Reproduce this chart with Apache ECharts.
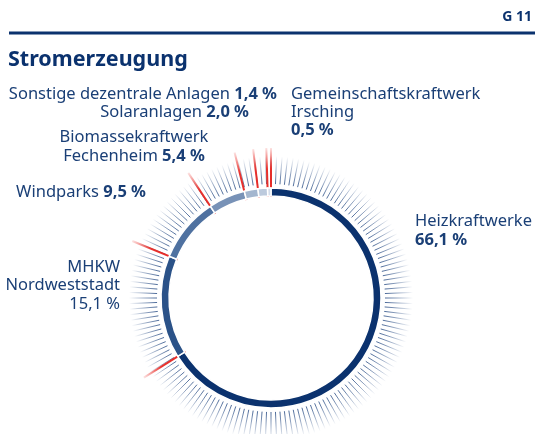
<!DOCTYPE html>
<html>
<head>
<meta charset="utf-8">
<script src="https://cdn.jsdelivr.net/npm/echarts@6/dist/echarts.min.js"></script>
<style>
  html, body { margin: 0; padding: 0; background: #fff; }
  #main { width: 535px; height: 434px; }
</style>
</head>
<body>
<div id="main"></div>
<script>
// Anteile an der Stromerzeugung (%), im Uhrzeigersinn ab 12 Uhr
const names = [
  "Heizkraftwerke",
  "MHKW\nNordweststadt",
  "Windparks",
  "Biomassekraftwerk\nFechenheim",
  "Solaranlagen",
  "Sonstige dezentrale Anlagen",
  "Gemeinschaftskraftwerk\nIrsching",
];
const values = [66.1, 15.1, 9.5, 5.4, 2.0, 1.4, 0.5];
const colors = ["#0b326e", "#2b5288", "#4f71a0", "#7892b7", "#a3b6cf", "#bccadd", "#d3dcea"];

const cx = 271, cy = 298;
const textColor = "#1a3f76";

// Segmentgrenzen (kumuliert)
let bounds = [0];
let acc = 0;
for (let i = 0; i < values.length - 1; i++) {
  acc += values[i];
  bounds.push(+acc.toFixed(1));
}

function fmt(v) {
  return v.toFixed(1).replace(".", ",") + " %";
}

// Beschriftung: Name normal, Wert fett (MHKW-Wert normal wie im Original)
function labelText(i, valueOnNewLine, boldValue) {
  let parts = names[i].split("\n");
  let lines = parts.map((p) => "{n|" + p + "}");
  let v = "{" + (boldValue ? "v" : "n") + "|" + fmt(values[i]) + "}";
  if (valueOnNewLine) {
    lines.push(v);
  } else {
    lines[lines.length - 1] += "{n| }" + v;
  }
  return lines.join("\n");
}

function rich(lh) {
  return {
    n: { fontFamily: "Noto Sans", fontSize: 16.5, fill: textColor, lineHeight: lh },
    v: { fontFamily: "Noto Sans", fontSize: 16.5, fontWeight: "bold", fill: textColor, lineHeight: lh },
  };
}

// [x, y(top), align, value on new line, lineHeight, bold value]
const labelPos = [
  [415, 212, "left", true, 19, true],
  [120, 258, "right", true, 18.5, false],
  [146, 183, "right", false, 19, true],
  [134, 128, "center", false, 19, true],
  [249, 103, "right", false, 19, true],
  [277, 85, "right", false, 19, true],
  [291, 85, "left", true, 18, true],
];

var chartDom = document.getElementById("main");
var myChart = echarts.init(chartDom);

let graphics = [
  {
    type: "rect",
    shape: { x: 9, y: 31.5, width: 526, height: 3 },
    style: { fill: "#0b326e" },
  },
  {
    type: "text",
    x: 532,
    y: 17,
    style: {
      text: "G 11",
      fontFamily: "Noto Sans",
      fontSize: 14,
      fontWeight: "bold",
      fill: "#0b326e",
      align: "right",
      verticalAlign: "middle",
    },
  },
  {
    type: "text",
    x: 8,
    y: 60,
    style: {
      text: "Stromerzeugung",
      fontFamily: "Noto Sans",
      fontSize: 21.5,
      fontWeight: "bold",
      fill: "#0b326e",
      verticalAlign: "middle",
    },
  },
];
labelPos.forEach(function (p, i) {
  graphics.push({
    type: "text",
    x: p[0],
    y: p[1],
    style: {
      text: labelText(i, p[3], p[5]),
      rich: rich(p[4]),
      fill: textColor,
      align: p[2],
      verticalAlign: "top",
    },
  });
});

var tickGrad = new echarts.graphic.RadialGradient(cx, cy, 142, [
  { offset: 0.78, color: "rgba(45,80,135,0.95)" },
  { offset: 0.88, color: "rgba(45,80,135,0.55)" },
  { offset: 1, color: "rgba(45,80,135,0)" },
], true);
var redGrad = new echarts.graphic.RadialGradient(cx, cy, 152, [
  { offset: 0.6, color: "rgba(232,40,35,1)" },
  { offset: 0.85, color: "rgba(232,40,35,0.95)" },
  { offset: 1, color: "rgba(232,40,35,0.05)" },
], true);

var option = {
  backgroundColor: "#fff",
  animation: false,
  graphic: graphics,
  polar: { center: [cx, cy], radius: 150 },
  angleAxis: { type: "value", min: 0, max: 100, startAngle: 90, clockwise: true, show: false },
  radiusAxis: { type: "value", min: 0, max: 150, show: false },
  series: [
    {
      // Strahlenkranz
      type: "gauge",
      center: [cx, cy],
      radius: 142,
      startAngle: 90,
      endAngle: -270,
      min: 0,
      max: 100,
      splitNumber: 160,
      axisLine: { show: false, lineStyle: { width: 0 } },
      axisTick: { show: false },
      axisLabel: { show: false },
      pointer: { show: false },
      detail: { show: false },
      title: { show: false },
      splitLine: {
        show: true,
        length: 28,
        distance: 0,
        lineStyle: { color: tickGrad, width: 1 },
      },
      data: [],
    },
    {
      type: "pie",
      center: [cx, cy],
      radius: [102, 110],
      startAngle: 90,
      clockwise: true,
      label: { show: false },
      labelLine: { show: false },
      itemStyle: { borderColor: "#fff", borderWidth: 1.5 },
      data: values.map(function (v, i) {
        return { name: names[i], value: v, itemStyle: { color: colors[i] } };
      }),
    },
    {
      // rote Trennstriche an den Segmentgrenzen
      type: "custom",
      coordinateSystem: "polar",
      data: bounds.map(function (b) { return [150, b]; }),
      renderItem: function (params, api) {
        var a = api.value(1);
        var p1 = api.coord([101, a]);
        var p2 = api.coord([api.value(0), a]);
        return {
          type: "line",
          shape: { x1: p1[0], y1: p1[1], x2: p2[0], y2: p2[1] },
          style: { stroke: redGrad, lineWidth: 2 },
        };
      },
    },
  ],
};

if (option && typeof option === "object") {
  myChart.setOption(option);
}
</script>
</body>
</html>
